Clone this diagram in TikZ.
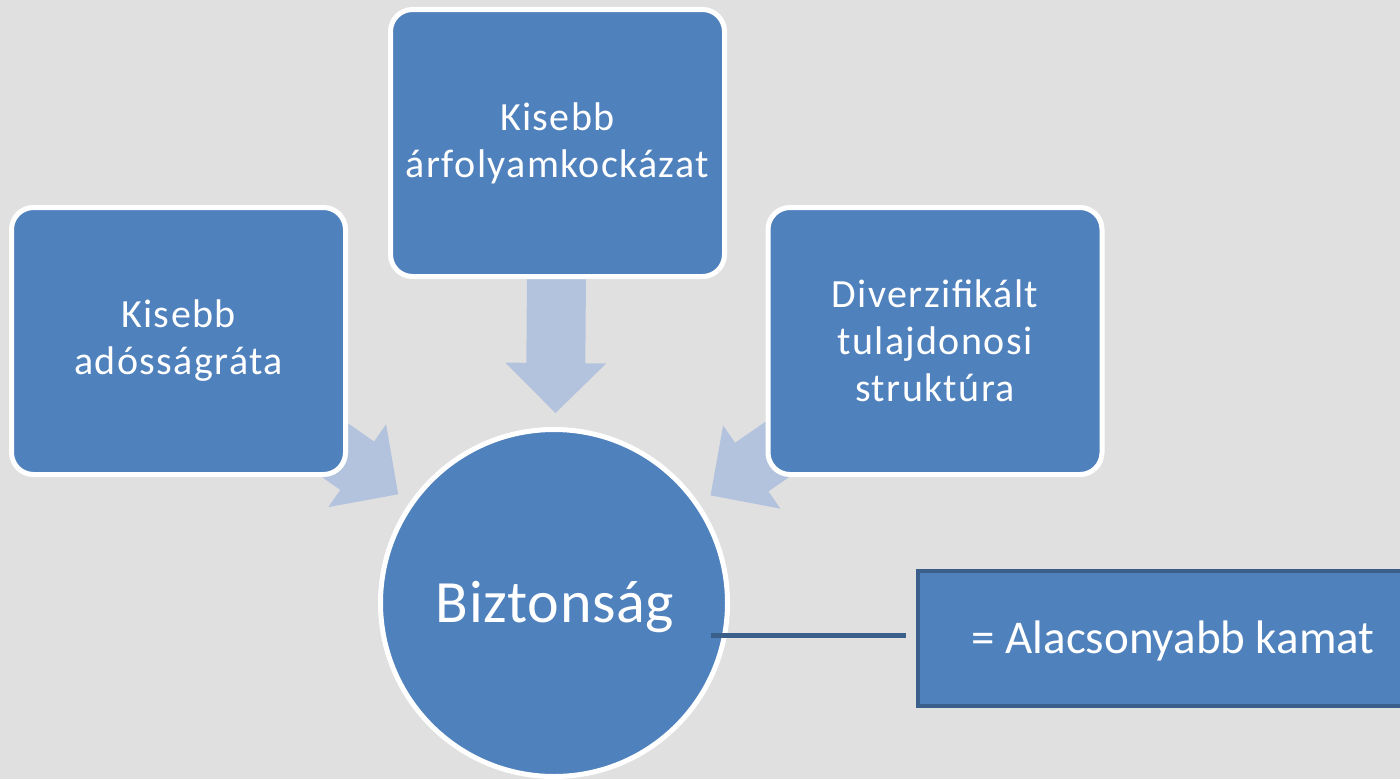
\documentclass[tikz,border=0pt]{standalone}
\usepackage{fontspec}
\setmainfont{Carlito}
\newfontfamily\myboxfont[LetterSpace=3.5]{Carlito}
\newfontfamily\mybigfont[LetterSpace=1]{Carlito}
\usetikzlibrary{calc,backgrounds}
\definecolor{bg}{HTML}{E0E0E0}
\definecolor{boxblue}{HTML}{4F81BD}
\definecolor{arrowblue}{HTML}{B3C3DE}
\definecolor{darkblue}{HTML}{3A5F8B}
\tikzset{
  boxstyle/.style={rectangle, rounded corners=22pt, draw=white, line width=5pt,
    fill=boxblue, text=white, minimum width=334pt, minimum height=267pt,
    align=center, inner sep=0pt, font=\myboxfont\fontsize{40}{47}\selectfont},
  circstyle/.style={circle, draw=white, line width=5pt, fill=boxblue,
    minimum size=347pt, inner sep=0pt},
  bigtext/.style={text=white, inner sep=0pt, font=\mybigfont\fontsize{60}{72}\selectfont},
  kboxstyle/.style={rectangle, draw=darkblue, line width=4pt, fill=boxblue,
    minimum width=510pt, minimum height=135pt, inner sep=0pt},
  ktext/.style={text=white, inner sep=0pt, font=\fontsize{47}{56}\selectfont},
  arrowstyle/.style={fill=arrowblue},
  connline/.style={draw=darkblue, line width=5pt}
}
\newcommand\mybarrow[2]{%
  \coordinate (#2-tip) at ($(circ.center)!190pt!(#1.center)$);
  \coordinate (#2-hb) at ($(#2-tip)!50pt!(#1.center)$);
  \fill[arrowstyle] ($(#1.center)!29.5pt!90:(#2-tip)$)
    -- ($(#2-hb)!29.5pt!90:(#2-tip)$)
    -- ($(#2-hb)!50.5pt!90:(#2-tip)$)
    -- (#2-tip)
    -- ($(#2-hb)!50.5pt!-90:(#2-tip)$)
    -- ($(#2-hb)!29.5pt!-90:(#2-tip)$)
    -- ($(#1.center)!29.5pt!-90:(#2-tip)$) -- cycle;
}
\begin{document}
\begin{tikzpicture}[x=1pt,y=-1pt]
\useasboundingbox (0,0) rectangle (1400,779);
\clip (0,0) rectangle (1400,779);
\node[boxstyle] (lbox) at (178.5,341) {Kisebb\\adósságráta};
\node[boxstyle] (tbox) at (557.5,143) {Kisebb\\árfolyamkockázat};
\node[boxstyle] (rbox) at (935,341) {Diverzifikált\\tulajdonosi\\struktúra};
\node[circstyle] (circ) at (554,603) {};
\node[bigtext, anchor=base] (ctext) at (555,622) {Biztonság};
\node[kboxstyle] (kbox) at (1173,638.5) {};
\node[ktext, anchor=base] (ktext) at (1173,653) {= Alacsonyabb kamat};
\coordinate (l1) at (711,635);
\draw[connline, shorten >=10pt] (l1) -- (l1 -| kbox.west);
\begin{scope}[on background layer]
  \fill[bg] (0,0) rectangle (1400,779);
  \mybarrow{lbox}{la}
  \mybarrow{tbox}{ta}
  \mybarrow{rbox}{ra}
\end{scope}
\end{tikzpicture}
\end{document}
